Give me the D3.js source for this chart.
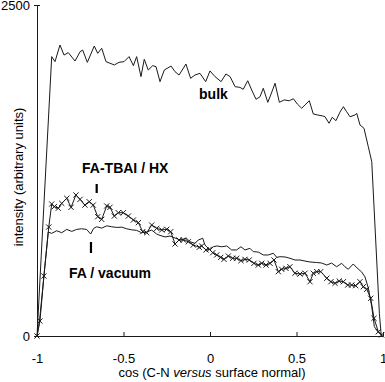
<!DOCTYPE html>
<html><head><meta charset="utf-8">
<script src="https://cdn.jsdelivr.net/npm/d3@7/dist/d3.min.js"></script>
<style>html,body{margin:0;padding:0;background:#fff;}svg{display:block;}</style>
</head><body>
<script>
// ---- data (cos of C-N vs surface normal, intensity in arbitrary units) ----
const bulk = [[-1,0],[-0.915,2110],[-0.896,2072],[-0.867,2198],[-0.844,2122],[-0.819,2140],[-0.780,2077],[-0.751,2147],[-0.736,2160],[-0.709,2067],[-0.669,2190],[-0.649,2135],[-0.626,2173],[-0.601,2072],[-0.553,2047],[-0.526,2067],[-0.497,2072],[-0.468,2110],[-0.443,2042],[-0.424,2110],[-0.399,1959],[-0.380,2090],[-0.357,2009],[-0.331,2042],[-0.312,2034],[-0.289,1921],[-0.264,2009],[-0.225,2039],[-0.202,1996],[-0.179,1971],[-0.139,2054],[-0.112,1946],[-0.087,1971],[-0.058,1984],[-0.025,1921],[0.000,2002],[0.029,1959],[0.064,1921],[0.092,1979],[0.116,1959],[0.145,1883],[0.173,1878],[0.192,1863],[0.218,1928],[0.241,1858],[0.266,1788],[0.289,1807],[0.308,1871],[0.334,1765],[0.351,1820],[0.376,1909],[0.401,1765],[0.429,1783],[0.458,1777],[0.482,1792],[0.505,1752],[0.530,1720],[0.549,1745],[0.574,1777],[0.597,1677],[0.623,1669],[0.651,1662],[0.665,1656],[0.688,1607],[0.707,1652],[0.728,1626],[0.751,1690],[0.771,1732],[0.790,1694],[0.809,1656],[0.838,1669],[0.848,1682],[0.867,1594],[0.890,1569],[0.915,1430],[0.935,1317],[0.979,171],[0.99,0]];

const faTbaiHx = [[-1,0],[-0.983,113],[-0.960,453],[-0.932,823],[-0.915,997],[-0.900,977],[-0.877,965],[-0.857,1002],[-0.828,1040],[-0.803,972],[-0.775,1065],[-0.751,1032],[-0.723,989],[-0.698,1014],[-0.675,989],[-0.649,901],[-0.626,881],[-0.597,982],[-0.578,972],[-0.553,906],[-0.530,931],[-0.501,931],[-0.472,906],[-0.443,876],[-0.414,856],[-0.389,788],[-0.366,780],[-0.337,838],[-0.308,813],[-0.279,801],[-0.250,806],[-0.227,788],[-0.202,695],[-0.179,725],[-0.154,725],[-0.125,712],[-0.097,687],[-0.062,670],[-0.048,680],[-0.023,650],[-0.004,655],[0.016,629],[0.039,612],[0.062,594],[0.081,579],[0.106,604],[0.131,587],[0.154,587],[0.179,569],[0.202,579],[0.227,574],[0.254,549],[0.279,536],[0.299,549],[0.324,536],[0.347,549],[0.370,574],[0.395,486],[0.414,504],[0.439,511],[0.462,523],[0.491,474],[0.520,468],[0.549,474],[0.578,410],[0.597,474],[0.617,486],[0.640,486],[0.675,436],[0.699,410],[0.723,398],[0.747,415],[0.771,410],[0.796,385],[0.819,385],[0.842,380],[0.867,410],[0.886,372],[0.906,353],[0.929,285],[0.948,134],[0.973,32],[0.992,8]];

const faVacuum = [[-1,0],[-0.985,120],[-0.935,785],[-0.915,775],[-0.886,795],[-0.857,780],[-0.828,805],[-0.799,790],[-0.771,805],[-0.742,810],[-0.713,805],[-0.690,770],[-0.673,812],[-0.655,825],[-0.626,815],[-0.597,832],[-0.568,825],[-0.539,820],[-0.510,822],[-0.482,810],[-0.453,802],[-0.424,798],[-0.395,780],[-0.366,786],[-0.337,800],[-0.308,770],[-0.289,760],[-0.260,748],[-0.231,755],[-0.202,740],[-0.173,725],[-0.135,738],[-0.116,712],[-0.087,700],[-0.068,725],[-0.042,738],[-0.029,687],[0.000,650],[0.019,674],[0.040,680],[0.068,674],[0.097,680],[0.125,650],[0.154,650],[0.179,674],[0.202,650],[0.231,662],[0.250,637],[0.279,634],[0.308,612],[0.337,612],[0.366,625],[0.386,594],[0.405,599],[0.434,597],[0.462,587],[0.491,574],[0.520,574],[0.549,566],[0.578,559],[0.617,555],[0.646,551],[0.675,536],[0.703,551],[0.732,523],[0.761,549],[0.780,523],[0.799,504],[0.828,544],[0.850,514],[0.877,483],[0.896,446],[0.915,363],[0.935,221],[0.950,70],[0.973,30],[0.992,8]];

const xTickValues = [-1, -0.5, 0, 0.5, 1];
const xTickLabels = ["-1", "-0.5", "0", "0.5", "1"];
const yTickValues = [0, 2500];
const yTickLabels = ["0", "2500"];

// annotations in data units: [label, cos, intensity]
const seriesLabels = [["bulk", 0.02, 1788], ["FA-TBAI / HX", -0.49, 1229], ["FA / vacuum", -0.578, 436]];
// indicator bars: [cos, intensity from, intensity to]
const indicators = [[-0.655, 1080, 1148], [-0.688, 627, 710]];

// ---- drawing ----
const W = 385, H = 382;
const FONT = "'Liberation Sans', Arial, Helvetica, sans-serif";
const INK = "#1a1a1a";
const svg = d3.select("body").append("svg").attr("width", W).attr("height", H)
  .attr("font-family", FONT);

const x = d3.scaleLinear().domain([-1, 1]).range([37, 383]);
const y = d3.scaleLinear().domain([0, 2500]).range([336, 5]);

const line = d3.line().x(d => x(d[0])).y(d => y(d[1]));

// x axis
const gx = svg.append("g").attr("transform", `translate(0,${y(0)})`)
  .call(d3.axisBottom(x).tickValues(xTickValues)
    .tickFormat((d, i) => xTickLabels[i])
    .tickSizeInner(-4).tickSizeOuter(0).tickPadding(18));
gx.attr("font-family", FONT).attr("font-size", 13);
gx.selectAll("path,line").attr("stroke", INK);
gx.selectAll("text").attr("fill", "#000");

// y axis
const gy = svg.append("g").attr("transform", `translate(${x(-1)},0)`)
  .call(d3.axisLeft(y).tickValues(yTickValues)
    .tickFormat((d, i) => yTickLabels[i])
    .tickSizeInner(3).tickSizeOuter(0).tickPadding(4));
gy.attr("font-family", FONT).attr("font-size", 13);
gy.selectAll("path,line").attr("stroke", INK);
gy.selectAll(".tick line").attr("x1", 3);
gy.selectAll("text").attr("fill", "#000");

// series
[bulk, faVacuum, faTbaiHx].forEach(s => {
  svg.append("path").datum(s).attr("d", line)
    .attr("fill", "none").attr("stroke", INK).attr("stroke-width", 1)
    .attr("stroke-linejoin", "round");
});

const c = 2.6;
svg.append("g").selectAll("path").data(faTbaiHx).join("path")
  .attr("transform", d => `translate(${x(d[0])},${y(d[1])})`)
  .attr("d", `M${-c},${-c}L${c},${c}M${-c},${c}L${c},${-c}`)
  .attr("stroke", INK).attr("stroke-width", 1).attr("fill", "none");

// series labels
svg.append("g").selectAll("text").data(seriesLabels).join("text")
  .attr("x", d => x(d[1])).attr("y", d => y(d[2]))
  .attr("text-anchor", "middle").attr("font-size", 14).attr("font-weight", "bold")
  .attr("fill", "#000").text(d => d[0]);

svg.append("g").selectAll("line").data(indicators).join("line")
  .attr("x1", d => x(d[0])).attr("x2", d => x(d[0]))
  .attr("y1", d => y(d[1])).attr("y2", d => y(d[2]))
  .attr("stroke", "#000").attr("stroke-width", 2.2);

// axis titles
const xt = svg.append("text").attr("x", 212).attr("y", 377)
  .attr("text-anchor", "middle").attr("font-size", 13).attr("fill", "#000");
xt.append("tspan").text("cos (C-N ");
xt.append("tspan").attr("font-style", "italic").text("versus");
xt.append("tspan").text(" surface normal)");

svg.append("text").attr("transform", "translate(23,177) rotate(-90)")
  .attr("text-anchor", "middle").attr("font-size", 13).attr("fill", "#000")
  .text("intensity (arbitrary units)");
</script>
</body></html>
